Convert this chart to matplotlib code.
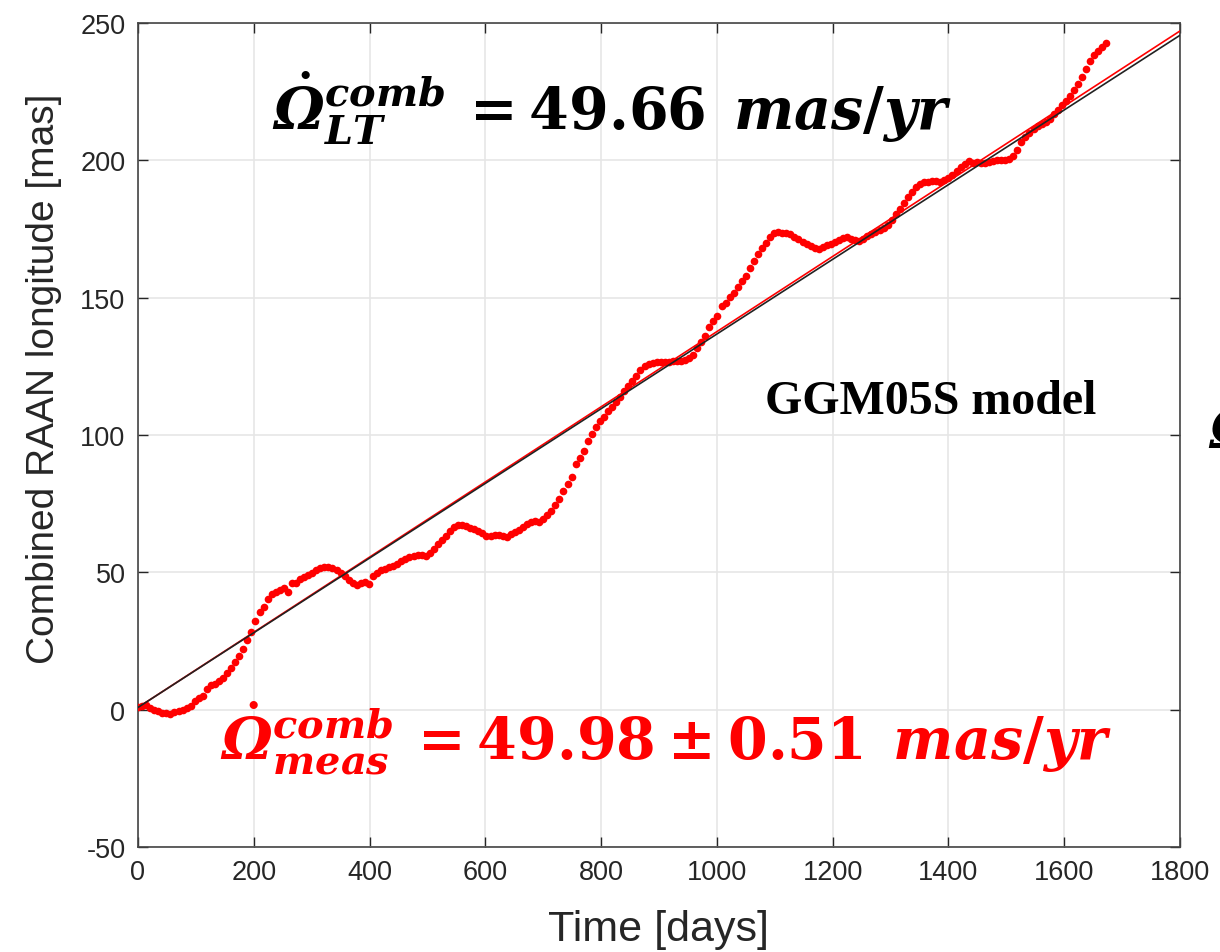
import numpy as np
import matplotlib
matplotlib.use("Agg")
import matplotlib.pyplot as plt

plt.rcParams['font.family'] = ['Liberation Sans', 'DejaVu Sans']
plt.rcParams['axes.unicode_minus'] = False
# bold math, italic letters / upright digits (close to the Cambria Math look)
plt.rcParams['mathtext.fontset'] = 'custom'
plt.rcParams['mathtext.rm'] = 'DejaVu Serif:bold'
plt.rcParams['mathtext.it'] = 'DejaVu Serif:italic:bold'
plt.rcParams['mathtext.bf'] = 'DejaVu Serif:bold'
plt.rcParams['mathtext.bfit'] = 'DejaVu Serif:italic:bold'

# combined RAAN residual, one sample every 7 days
raan = [
    0.8, 1.5, 1.6, 0.7, 0.0, -0.6, -1.1, -1.4, -1.5, -0.9,
    -0.5, 0.0, 0.7, 1.4, 3.2, 4.3, 5.0, 7.6, 8.8, 9.4,
    10.3, 11.5, 13.3, 15.2, 17.5, 19.6, 22.0, 25.2, 28.4, 32.2,
    35.4, 37.5, 40.2, 42.0, 42.8, 43.6, 44.2, 43.0, 46.0, 46.2,
    47.6, 48.3, 49.0, 49.8, 50.8, 51.6, 51.9, 51.9, 51.4, 50.7,
    49.8, 48.6, 47.2, 46.2, 45.5, 46.1, 46.3, 45.9, 48.6, 49.7,
    50.7, 51.3, 51.8, 52.4, 53.2, 54.1, 55.0, 55.6, 55.9, 56.2,
    56.3, 55.9, 57.0, 58.6, 60.3, 61.7, 63.4, 65.0, 66.4, 67.2,
    67.3, 66.8, 66.1, 65.6, 65.0, 64.2, 63.4, 63.3, 63.7, 63.5,
    63.1, 62.9, 64.0, 64.8, 65.3, 66.4, 67.5, 68.2, 68.6, 68.3,
    69.5, 70.7, 72.2, 74.6, 76.8, 79.6, 82.2, 84.8, 89.4, 91.8,
    94.0, 97.8, 100.5, 103.0, 105.1, 106.5, 108.7, 110.3, 111.9, 113.9,
    116.1, 117.7, 119.7, 121.6, 123.7, 125.2, 125.9, 126.3, 126.5, 126.6,
    126.6, 126.7, 127.0, 127.0, 127.0, 127.2, 128.0, 129.3, 131.6, 133.8,
    136.2, 139.2, 141.4, 143.5, 146.8, 148.2, 150.3, 151.8, 153.8, 156.0,
    158.0, 160.8, 163.3, 165.8, 168.0, 170.0, 172.0, 173.4, 174.0, 173.6,
    173.4, 173.3, 172.2, 171.4, 170.4, 169.5, 168.8, 168.0, 167.6, 168.3,
    169.0, 169.7, 170.4, 170.9, 171.6, 172.0, 171.5, 171.0, 170.6, 171.4,
    172.4, 173.2, 173.9, 174.6, 175.4, 176.5, 178.2, 180.4, 182.3, 184.4,
    186.5, 188.6, 190.3, 191.5, 192.1, 192.0, 192.3, 192.4, 192.1, 192.8,
    193.7, 194.8, 196.3, 197.4, 198.8, 199.8, 199.1, 199.4, 199.2, 199.2,
    199.5, 199.8, 200.0, 200.0, 200.0, 200.5, 201.6, 203.7, 206.7, 208.6,
    210.0, 211.3, 212.4, 213.2, 213.9, 215.0, 216.8, 218.5, 220.2, 221.6,
    223.5, 225.6, 227.7, 230.4, 233.2, 236.0, 238.2, 239.8, 241.2, 242.6,
]
days = np.arange(len(raan)) * 7

# linear trends [mas/yr]
rate_meas = 49.98
rate_lt = 49.66
offset = 0.8
fit_days = np.array([0, 1800])

fig = plt.figure(figsize=(12.2, 9.53), dpi=100)
ax = fig.add_axes([0.1131, 0.1102, 0.8541, 0.8646])

ax.plot(days, raan, 'o', color='red', ms=5.5, mec='none', zorder=3)
ax.plot(fit_days, offset + rate_meas / 365.25 * fit_days, color='red', lw=1.2, zorder=4)
ax.plot(fit_days, offset + rate_lt / 365.25 * fit_days, color='#222222', lw=1.2, zorder=5)

ax.set_xlim(0, 1800)
ax.set_ylim(-50, 250)
ax.set_xticks(np.arange(0, 1801, 200))
ax.set_yticks(np.arange(-50, 251, 50))
ax.grid(True, color='#e6e6e6', lw=1.2)
ax.set_axisbelow(True)
ax.tick_params(direction='in', length=7, width=1, top=True, right=True,
               labelsize=19.5, colors='#262626', pad=9)
for s in ax.spines.values():
    s.set_color('#444444')
    s.set_linewidth(1.2)

ax.set_xlabel('Time [days]', fontsize=31, color='#262626')
ax.set_ylabel('Combined RAAN longitude [mas]', fontsize=28, color='#262626')
ax.xaxis.set_label_coords(0.5, -0.0995)
ax.xaxis.label.set_va('center')
ax.yaxis.set_label_coords(-0.09, 0.57)
ax.yaxis.label.set_va('center')

omega = r'\dot{\mathbfit{\Omega}}'
ax.text(0.455, 0.898,
        r'$' + omega + r'^{comb}_{LT}\, = 49.66\;\, mas/yr$',
        transform=ax.transAxes, fontsize=41, color='black', ha='center', va='center')
ax.text(0.507, 0.1335,
        r'$' + omega + r'^{comb}_{meas}\, = 49.98 \pm 0.51\;\, mas/yr$',
        transform=ax.transAxes, fontsize=41, color='red', ha='center', va='center')
ax.text(0.602, 0.541, 'GGM05S model', transform=ax.transAxes, fontsize=34.5,
        fontweight='bold', family='Liberation Serif', ha='left', va='center')

# fragment of a label cut off at the right edge of the original picture
fig.text(0.99, 0.545, r'$\mathbfit{\Omega}$', fontsize=40, color='black',
         ha='left', va='center')

fig.savefig('out.png', dpi=100)
